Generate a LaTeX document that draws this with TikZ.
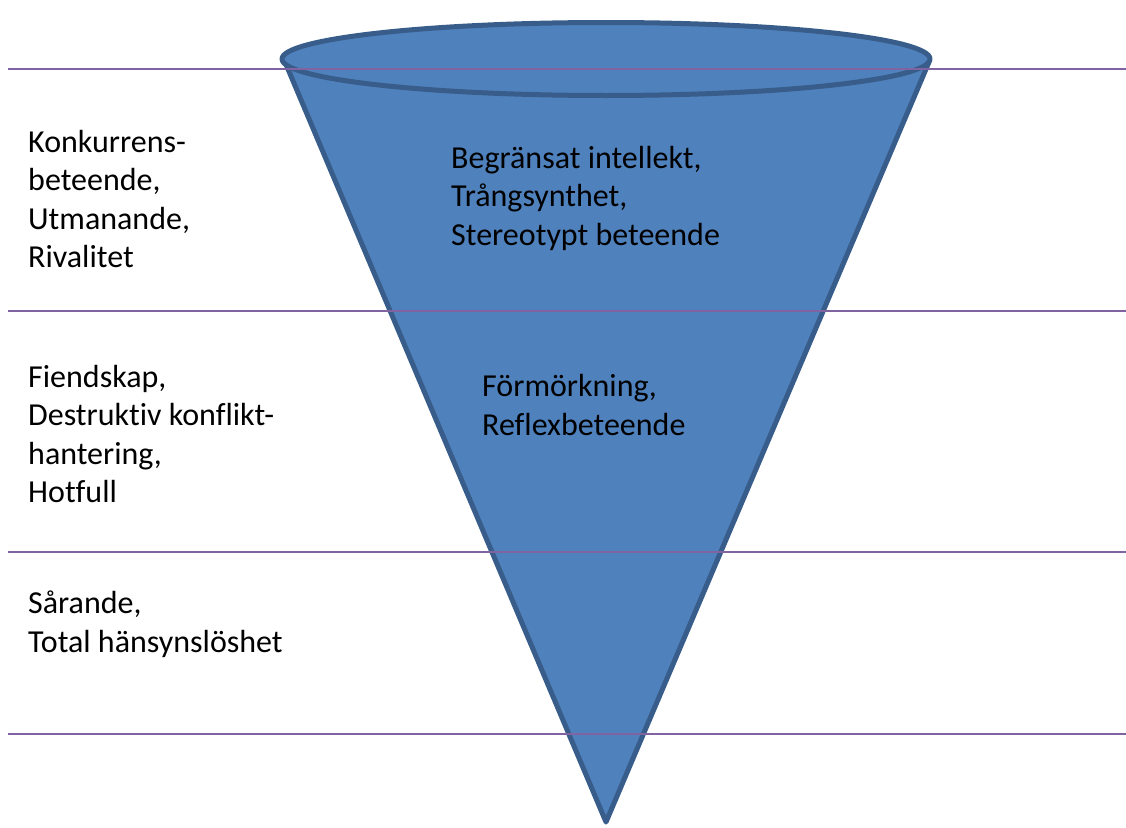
\documentclass[tikz,border=0pt]{standalone}
\usepackage{fontspec}
\setmainfont[Ligatures=NoCommon]{Carlito}
\usetikzlibrary{shapes.geometric}
\definecolor{conefill}{HTML}{4F81BD}
\definecolor{coneline}{HTML}{385D8A}
\definecolor{levelline}{HTML}{8064A2}
\begin{document}
\begin{tikzpicture}[x=1pt,y=-1pt,
  cone/.style={fill=conefill,draw=coneline,line width=5pt,line join=round},
  level/.style={draw=levelline,line width=2pt},
  txt/.style={inner sep=0pt,align=left,font=\fontsize{32}{38.5}\selectfont}]
\useasboundingbox (0,0) rectangle (1126,827);
% cone
\coordinate (apex) at (606,822);
\coordinate (tl) at (285,62);
\coordinate (tr) at (929,62);
\fill[conefill] (tl) -- (apex) -- (tr) -- cycle;
\draw[cone] (tl) -- (apex) -- (tr);
\node[cone,ellipse,minimum width=648,minimum height=73,inner sep=0pt] (rim) at (606,59) {};
% level lines
\coordinate (l1a) at (8,69);  \coordinate (l1b) at (1126,69);
\coordinate (l2a) at (8,311); \coordinate (l2b) at (1126,311);
\coordinate (l3a) at (8,552); \coordinate (l3b) at (1126,552);
\coordinate (l4a) at (8,734); \coordinate (l4b) at (1126,734);
\draw[level] (l1a) -- (l1b);
\draw[level] (l2a) -- (l2b);
\draw[level] (l3a) -- (l3b);
\draw[level] (l4a) -- (l4b);
% left texts
\node[txt,anchor=west] (t1) at (28,199) {Konkurrens-\\beteende,\\Utmanande,\\Rivalitet};
\node[txt,anchor=west] (t2) at (28,434) {Fiendskap,\\Destruktiv konflikt-\\hantering,\\Hotfull};
\node[txt,anchor=west] (t3) at (28,624) {Sårande,\\Total hänsynslöshet};
% cone texts
\node[txt,anchor=west] (c1) at (451,198) {Begränsat intellekt,\\Trångsynthet,\\Stereotypt beteende};
\node[txt,anchor=west] (c2) at (482,405) {Förmörkning,\\Reflexbeteende};
\end{tikzpicture}
\end{document}
